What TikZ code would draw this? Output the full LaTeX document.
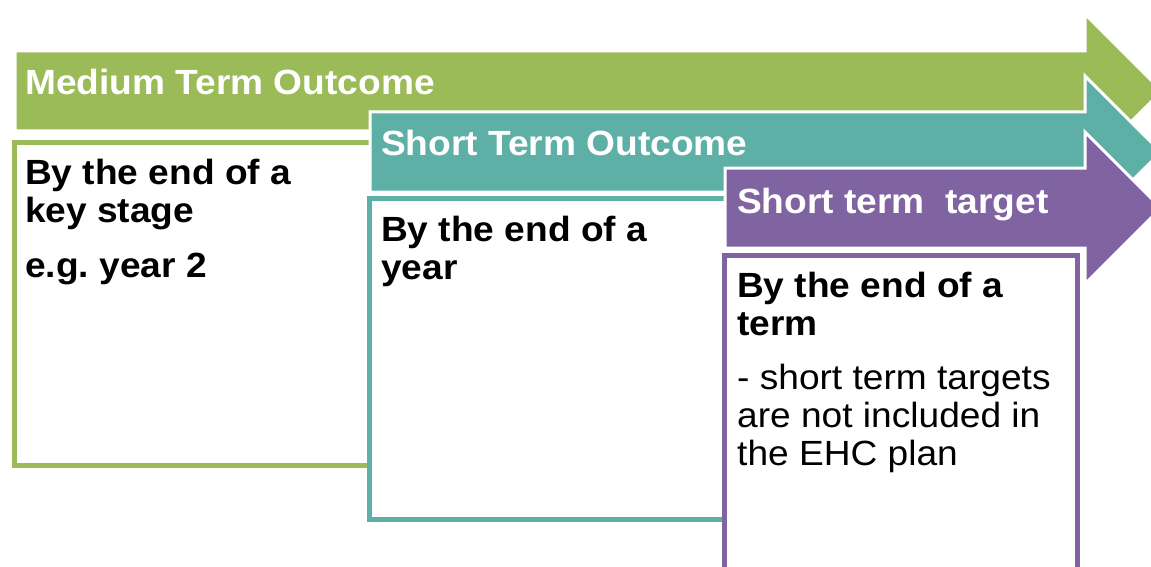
\documentclass[tikz,border=0pt]{standalone}
\usepackage{fontspec}
\setmainfont{Liberation Sans}[FakeStretch=1.06]
\definecolor{cgreen}{HTML}{9BBB59}
\definecolor{cteal}{HTML}{5EAFA6}
\definecolor{cpurple}{HTML}{8064A2}
\tikzset{
  arrowshape/.style={draw=white, line width=3pt, line join=miter},
  boxfill/.style={fill=white},
  boxline/.style={line width=5pt, line cap=rect},
  title/.style={anchor=base west, inner sep=0pt, text=white, font=\fontsize{35}{38}\selectfont\bfseries},
  btext/.style={anchor=base west, inner sep=0pt, text=black, font=\fontsize{35}{38}\selectfont\bfseries},
  rtext/.style={anchor=base west, inner sep=0pt, text=black, font=\fontsize{35}{38}\selectfont},
}
\begin{document}
\frenchspacing
\begin{tikzpicture}[x=1pt,y=-1pt]
\useasboundingbox (0,0) rectangle (1151,567);
\clip (0,0) rectangle (1151,567);
% green arrow and box
\fill[cgreen, arrowshape] (15,51) -- (1085,51) -- (1085,14) -- (1162,91) -- (1085,168) -- (1085,131) -- (15,131) -- cycle;
\fill[boxfill] (14.5,142.5) rectangle (380,465.5);
\draw[boxline, draw=cgreen] (380,142.5) -- (14.5,142.5) -- (14.5,465.5) -- (380,465.5);
% teal arrow and box
\fill[cteal, arrowshape] (370,112) -- (1085,112) -- (1085,76) -- (1161,152) -- (1085,228) -- (1085,192) -- (370,192) -- cycle;
\fill[boxfill] (369.5,198.5) rectangle (735,519.5);
\draw[boxline, draw=cteal] (735,198.5) -- (369.5,198.5) -- (369.5,519.5) -- (735,519.5);
% purple arrow and box
\fill[cpurple, arrowshape] (725,168) -- (1085,168) -- (1085,132) -- (1161,208) -- (1085,284) -- (1085,248) -- (725,248) -- cycle;
\draw[fill=white, line width=5pt, draw=cpurple] (724.5,255.5) rectangle (1077.5,620);
% titles
\node[title] (t1) at (25,95) {Medium Term Outcome};
\node[title] (t2) at (381,155) {Short Term Outcome};
\node[title] (t3) at (737,213) {Short term\ \ target};
% green box text
\node[btext] (g1) at (25,184) {By the end of a};
\node[btext] (g2) at (25,222) {key stage};
\node[btext] (g3) at (25,277) {e.g. year 2};
% teal box text
\node[btext] (s1) at (381,241) {By the end of a};
\node[btext] (s2) at (381,279) {year};
% purple box text
\node[btext] (p1) at (737,297) {By the end of a};
\node[btext] (p2) at (737,335) {term};
\node[rtext] (p3) at (737,389) {- short term targets};
\node[rtext] (p4) at (737,427) {are not included in};
\node[rtext] (p5) at (737,465) {the EHC plan};
\end{tikzpicture}
\end{document}
